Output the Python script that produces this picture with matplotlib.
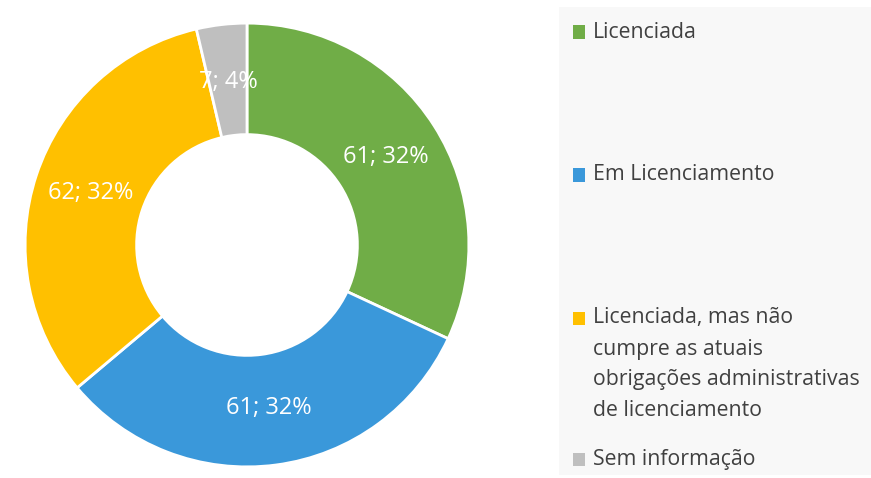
import matplotlib
matplotlib.use('Agg')
import matplotlib.pyplot as plt
from matplotlib.patches import Rectangle

plt.rcParams['font.family'] = ['Open Sans', 'DejaVu Sans']

# dados
categorias = ['Licenciada', 'Em Licenciamento',
              'Licenciada, mas não\ncumpre as atuais\nobrigações administrativas\nde licenciamento',
              'Sem informação']
valores = [61, 61, 62, 7]
cores = ['#70AD47', '#3A98DA', '#FFC000', '#BFBFBF']

W, H = 871, 478
fig = plt.figure(figsize=(W / 100, H / 100), dpi=100)
fig.patch.set_facecolor('white')

# painel da legenda (fundo cinza claro)
fig.patches.append(Rectangle((559 / W, 3 / H), (W - 559) / W, 468 / H,
                             transform=fig.transFigure, facecolor='#F8F8F8',
                             edgecolor='none', zorder=0))

# rosca
cx, cy, r = 247, 478 - 245, 223
ax = fig.add_axes([(cx - r) / W, (cy - r) / H, 2 * r / W, 2 * r / H])
total = sum(valores)


def rotulo(pct):
    v = int(round(pct * total / 100.0))
    return '%d; %d%%' % (v, round(pct))


res = ax.pie(valores, colors=cores, startangle=90, counterclock=False,
             radius=0.995, autopct=rotulo, pctdistance=0.74,
             wedgeprops=dict(width=0.5, edgecolor='white', linewidth=2),
             textprops=dict(color='white', fontsize=17))
ax.set_xlim(-1, 1)
ax.set_ylim(-1, 1)
ax.set_aspect('equal')
ax.axis('off')

# legenda manual
ys = [32, 175, 318, 459]
passo = 31
for cat, cor, y in zip(categorias, cores, ys):
    fig.patches.append(Rectangle((573 / W, (H - y - 6.5) / H), 12 / W, 13 / H,
                                 transform=fig.transFigure, facecolor=cor,
                                 edgecolor='none', zorder=2))
    for i, linha in enumerate(cat.split('\n')):
        fig.text(593 / W, (H - y - i * passo) / H, linha, fontsize=15.3,
                 color='#404040', va='center', ha='left')

fig.savefig('out.png', dpi=100)
